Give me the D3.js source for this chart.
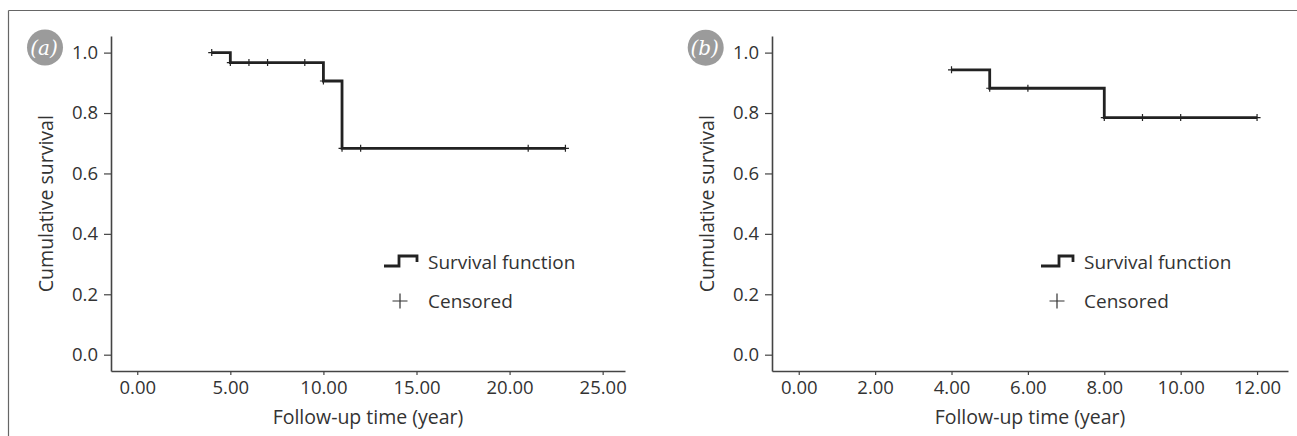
<!DOCTYPE html>
<html>
<head>
<meta charset="utf-8">
<script src="https://cdn.jsdelivr.net/npm/d3@7"></script>
<style>
  html, body { margin: 0; padding: 0; background: #fff; }
  svg { display: block; }
  text { font-family: "Open Sans", sans-serif; fill: #333; }
</style>
</head>
<body>
<svg id="chart" width="1297" height="436"></svg>
<script>
// ---------- data ----------
const yTicks = [0.0, 0.2, 0.4, 0.6, 0.8, 1.0];

const aXTicks = [0, 5, 10, 15, 20, 25];
const aStepTimes = [4, 5, 10, 11, 23];
const aStepSurv  = [1.0, 0.967, 0.906, 0.683, 0.683];
const aCensorTimes = [4, 5, 6, 7, 9, 10, 11, 12, 21, 23];

const bXTicks = [0, 2, 4, 6, 8, 10, 12];
const bStepTimes = [4, 5, 8, 12];
const bStepSurv  = [0.943, 0.882, 0.785, 0.785];
const bCensorTimes = [4, 5, 6, 8, 9, 10, 12];

const panelLabels = ["(a)", "(b)"];
const xTitle = "Follow-up time (year)";
const yTitle = "Cumulative survival";
const legendLabels = ["Survival function", "Censored"];

// ---------- layout ----------
const svg = d3.select("#chart");
const AX = "#444";
const LINE = "#222";
const TICK_FS = "18.5px", TITLE_FS = "19.5px", LEG_FS = "19px";

// outer frame (top and left rules)
svg.append("line").attr("x1", 8.5).attr("x2", 1297).attr("y1", 10.5).attr("y2", 10.5)
  .attr("stroke", "#666").attr("stroke-width", 1.2);
svg.append("line").attr("x1", 8.5).attr("x2", 8.5).attr("y1", 10.5).attr("y2", 436)
  .attr("stroke", "#666").attr("stroke-width", 1.2);

const panels = [
  { label: panelLabels[0], xTicks: aXTicks, times: aStepTimes, surv: aStepSurv, censors: aCensorTimes,
    xDomain: [-1.41, 26.2], xRange: [111, 625], circle: [45, 47.5], yTitleX: 46,
    legend: { iconX: [384, 399, 417], plusX: 400, textX: 428 } },
  { label: panelLabels[1], xTicks: bXTicks, times: bStepTimes, surv: bStepSurv, censors: bCensorTimes,
    xDomain: [-0.70, 12.81], xRange: [772, 1288], circle: [705.7, 47.7], yTitleX: 707,
    legend: { iconX: [1041, 1059, 1073], plusX: 1057, textX: 1084 } }
];

const yTop = 36, yBottom = 371;

panels.forEach(p => {
  const x = d3.scaleLinear().domain(p.xDomain).range(p.xRange);
  const y = d3.scaleLinear().domain([-0.054, 1.055]).range([yBottom, yTop]);
  const g = svg.append("g");

  // y axis
  const yAxis = d3.axisLeft(y).tickValues(yTicks).tickFormat(d3.format(".1f"))
    .tickSize(7).tickSizeOuter(0).tickPadding(6);
  const gy = g.append("g").attr("transform", `translate(${p.xRange[0]},0)`).call(yAxis);
  gy.selectAll("path.domain").attr("stroke", AX).attr("stroke-width", 1.6);
  gy.selectAll(".tick line").attr("stroke", AX).attr("stroke-width", 1.2);
  gy.selectAll(".tick text").style("font-family", '"Open Sans", sans-serif')
    .style("font-size", TICK_FS).attr("fill", "#333");

  // x axis
  const xAxis = d3.axisBottom(x).tickValues(p.xTicks).tickFormat(d3.format(".2f"))
    .tickSize(4).tickSizeOuter(0).tickPadding(6);
  const gx = g.append("g").attr("transform", `translate(0,${yBottom})`).call(xAxis);
  gx.selectAll("path.domain").attr("stroke", AX).attr("stroke-width", 1.6);
  gx.selectAll(".tick line").attr("stroke", AX).attr("stroke-width", 1.2);
  gx.selectAll(".tick text").style("font-family", '"Open Sans", sans-serif')
    .style("font-size", TICK_FS).attr("fill", "#333");

  // axis titles
  g.append("text").attr("x", (p.xRange[0] + p.xRange[1]) / 2).attr("y", 424)
    .attr("text-anchor", "middle").style("font-size", TITLE_FS).text(xTitle);
  g.append("text").attr("transform", `translate(${p.yTitleX + 7},${y(0.5)}) rotate(-90)`)
    .attr("text-anchor", "middle").style("font-size", TITLE_FS).text(yTitle);

  // survival curve
  const pts = p.times.map((t, i) => [t, p.surv[i]]);
  const line = d3.line().x(d => x(d[0])).y(d => y(d[1])).curve(d3.curveStepAfter);
  g.append("path").datum(pts).attr("d", line).attr("fill", "none")
    .attr("stroke", LINE).attr("stroke-width", 2.8).attr("stroke-linejoin", "miter");

  // censor marks
  const survAt = t => {
    let s = p.surv[0];
    p.times.forEach((tt, i) => { if (t >= tt) s = p.surv[i]; });
    return s;
  };
  p.censors.forEach(t => {
    const cx = x(t), cy = y(survAt(t));
    g.append("path").attr("d", `M${cx - 3.5},${cy}H${cx + 3.5}M${cx},${cy - 3.5}V${cy + 3.5}`)
      .attr("stroke", LINE).attr("stroke-width", 1.2).attr("fill", "none");
  });

  // panel label circle
  g.append("circle").attr("cx", p.circle[0]).attr("cy", p.circle[1]).attr("r", 18)
    .attr("fill", "#9b9b9b");
  g.append("text").attr("x", p.circle[0] - 1).attr("y", p.circle[1] + 7)
    .attr("text-anchor", "middle")
    .style("font-family", '"DejaVu Serif", "Liberation Serif", serif')
    .style("font-style", "italic").style("font-size", "20px")
    .style("fill", "#fff").text(p.label);

  // legend
  const L = p.legend;
  g.append("path").attr("d", `M${L.iconX[0]},266H${L.iconX[1]}V256H${L.iconX[2]}V262`)
    .attr("fill", "none").attr("stroke", LINE).attr("stroke-width", 2.8);
  g.append("text").attr("x", L.textX).attr("y", 269).style("font-size", LEG_FS).text(legendLabels[0]);
  g.append("path").attr("d", `M${L.plusX - 7.5},301H${L.plusX + 7.5}M${L.plusX},293.5V308.5`)
    .attr("fill", "none").attr("stroke", "#333").attr("stroke-width", 1.2);
  g.append("text").attr("x", L.textX).attr("y", 308).style("font-size", LEG_FS).text(legendLabels[1]);
});
</script>
</body>
</html>
